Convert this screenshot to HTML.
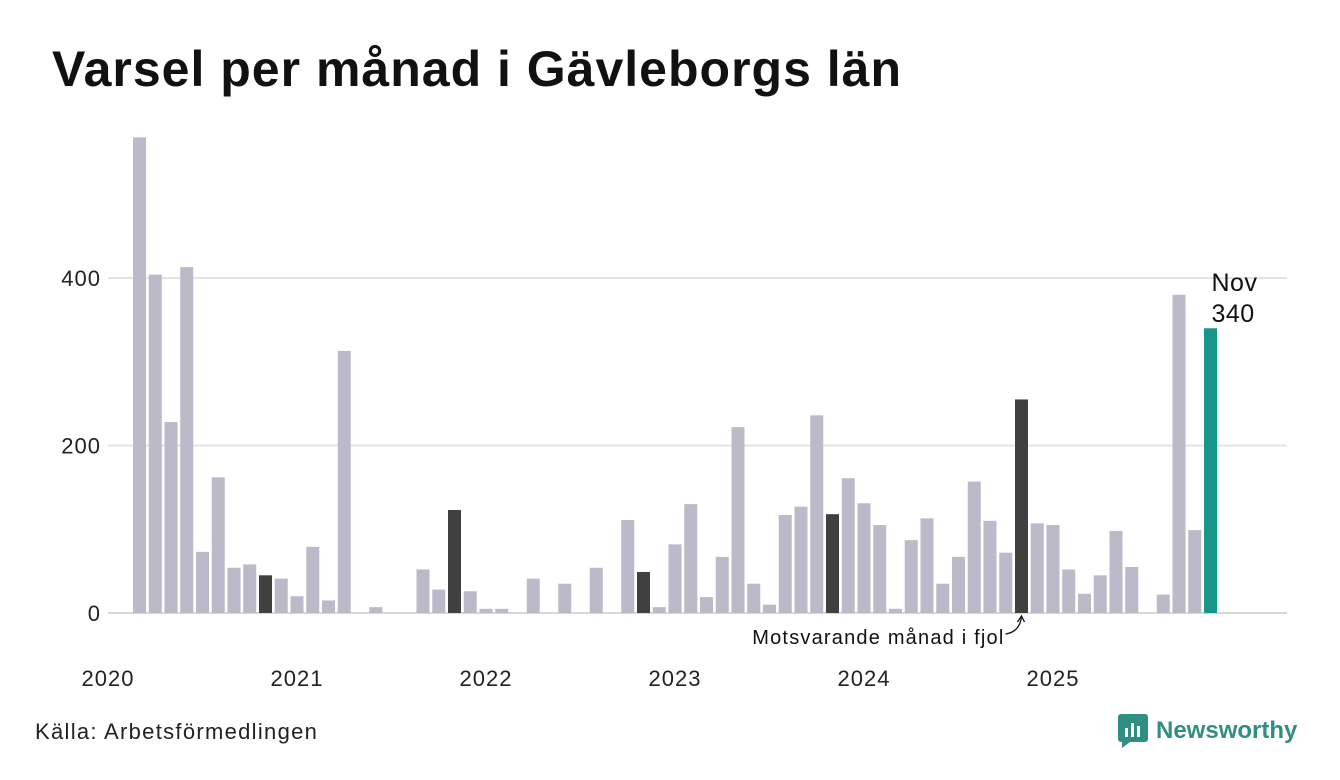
<!DOCTYPE html>
<html><head><meta charset="utf-8"><style>
body{margin:0;background:#fff;font-family:"Liberation Sans","DejaVu Sans",sans-serif;}
#wrap{position:relative;width:1340px;height:780px;overflow:hidden;background:#fff}
h1{position:absolute;left:52px;top:40px;margin:0;font-size:50px;font-weight:bold;color:#111;letter-spacing:1px}
#src{position:absolute;left:35px;top:719px;font-size:22px;color:#222;letter-spacing:1.3px}
#logo{position:absolute;left:1118px;top:714px;display:flex;align-items:center;gap:8px;color:#2f8f83;font-weight:bold;font-size:24px}
</style></head><body>
<div id="wrap">
<h1>Varsel per månad i Gävleborgs län</h1>
<svg id="chart" width="1340" height="780" style="position:absolute;left:0;top:0"></svg>
<div id="src">Källa: Arbetsförmedlingen</div>
<div id="logo">
<svg width="30" height="34" viewBox="0 0 30 34"><rect x="0" y="0" width="30" height="28" rx="3" fill="#2f8f83"/><polygon points="4,28 12,28 4,34" fill="#2f8f83"/><rect x="7" y="14" width="3" height="9" fill="#fff"/><rect x="13" y="9" width="3" height="14" fill="#fff"/><rect x="19" y="12" width="3" height="11" fill="#fff"/></svg>
<span>Newsworthy</span></div>
</div>
<script>
const values=[0,0,568,404,228,413,73,162,54,58,45,41,20,79,15,313,0,7,0,0,52,28,123,26,5,5,0,41,0,35,0,54,0,111,49,7,82,130,19,67,222,35,10,117,127,236,118,161,131,105,5,87,113,35,67,157,110,72,255,107,105,52,23,45,98,55,0,22,380,99,340];
const highlight=[10,22,34,46,58];
const yTicks=[0,200,400];
const years=["2020","2021","2022","2023","2024","2025"];
const svg=document.getElementById('chart');
const NS="http://www.w3.org/2000/svg";
const x=i=>108+15.75*i;
const y=v=>613-v*0.8375;
function mk(t,a){const e=document.createElementNS(NS,t);for(const k in a)e.setAttribute(k,a[k]);svg.appendChild(e);return e;}
yTicks.forEach(t=>{
 const l=mk('line',{x1:108,x2:1287,y1:y(t),y2:y(t),stroke:t===0?'#d8d8d8':'#e3e3e3','stroke-width':2});
 
 
 const tx=mk('text',{x:101,y:y(t)+8,'text-anchor':'end','font-size':22,fill:'#222','letter-spacing':1});
 tx.textContent=t;
 
 
});
years.forEach((yr,k)=>{
 const tx=mk('text',{x:x(k*12),y:686,'text-anchor':'middle','font-size':22,fill:'#222','letter-spacing':1});
 tx.textContent=yr;
 
 
});
values.forEach((v,i)=>{
 if(v<=0)return;
 let c='#bcbac8';
 if(highlight.includes(i))c='#404040';
 if(i===values.length-1)c='#17978a';
 const r=mk('rect',{x:x(i)-6.5,y:y(v),width:13,height:613-y(v),fill:c});
 
 
});
const li=values.length-1;
const a1=mk('text',{x:x(li)+1,y:291,'font-size':25,fill:'#111','letter-spacing':0.5});a1.textContent='Nov';


const a2=mk('text',{x:x(li)+1,y:322,'font-size':25,fill:'#111','letter-spacing':0.5});a2.textContent=values[li];


const hl=highlight[highlight.length-1];
const an=mk('text',{x:x(hl)-17,y:644,'text-anchor':'end','font-size':20,fill:'#111','letter-spacing':1.2});an.textContent='Motsvarande månad i fjol';


const p=mk('path',{d:`M${x(hl)-16},634 Q${x(hl)-2},632 ${x(hl)},617`,fill:'none',stroke:'#111','stroke-width':1.3});


const h=mk('path',{d:`M${x(hl)-4},622 L${x(hl)},616 L${x(hl)+3},622`,fill:'none',stroke:'#111','stroke-width':1.3});


</script>
</body></html>
